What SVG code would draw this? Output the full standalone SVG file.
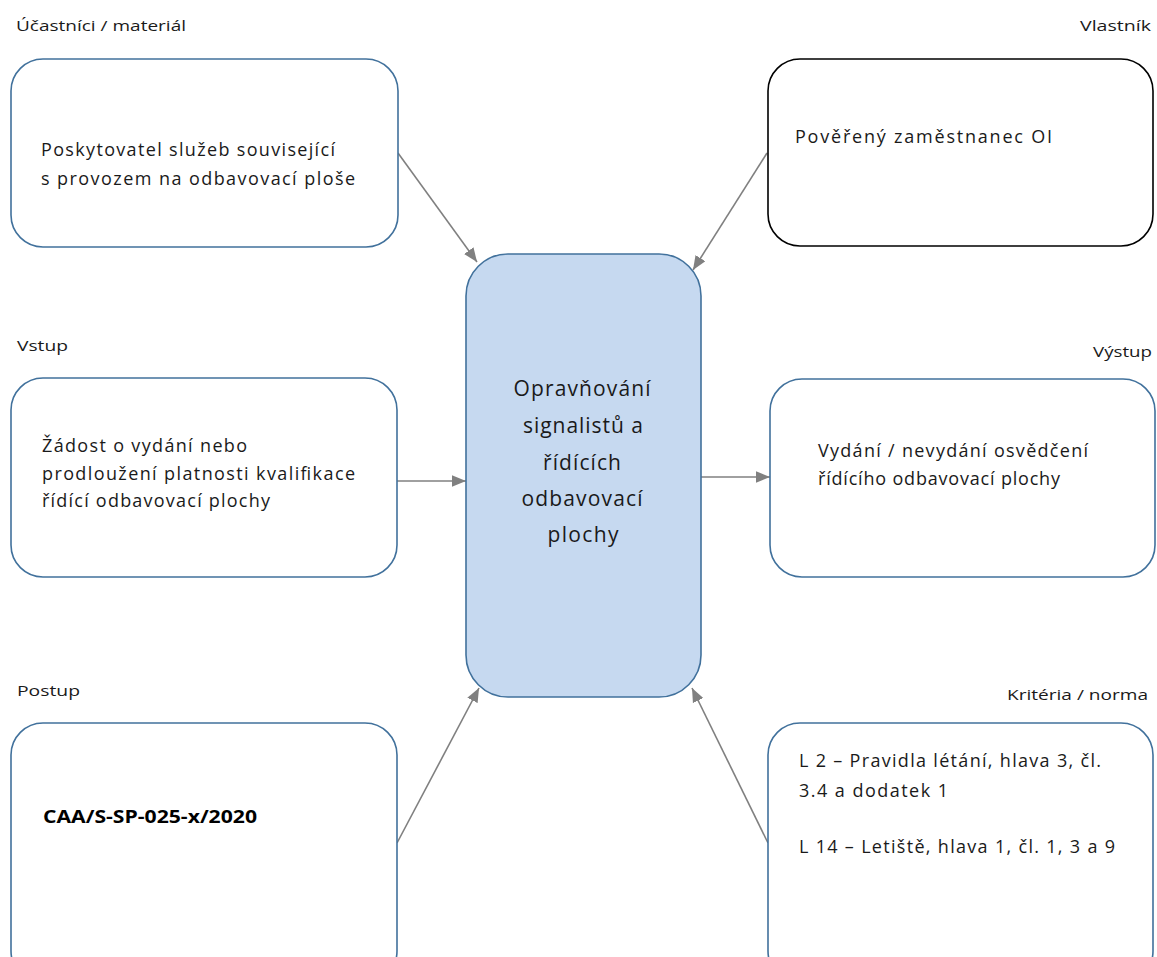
<svg xmlns="http://www.w3.org/2000/svg" width="1157" height="957" viewBox="0 0 1157 957">
  <style>
    .box { fill: #ffffff; stroke: #41719c; stroke-width: 1.6; }
    .boxk { fill: #ffffff; stroke: #000000; stroke-width: 1.6; }
    .main { fill: #c6d9f0; stroke: #41719c; stroke-width: 1.6; }
    .lbl { font-family: "Open Sans", "Liberation Sans", Arial, sans-serif; font-size: 15px; fill: #1a1a1a; }
    .txt { font-family: "Open Sans", "Liberation Sans", Arial, sans-serif; font-size: 18px; fill: #1a1a1a; }
    .ctr { font-family: "Open Sans", "Liberation Sans", Arial, sans-serif; font-size: 21px; fill: #1a1a1a; text-anchor: middle; }
    .bold { font-family: "Open Sans", "Liberation Sans", Arial, sans-serif; font-size: 18.5px; font-weight: bold; fill: #000000; }
    .conn { stroke: #808080; stroke-width: 1.6; fill: none; marker-end: url(#arr); }
  </style>
  <defs>
    <marker id="arr" viewBox="0 0 12 10" refX="12" refY="5" markerWidth="14" markerHeight="12" markerUnits="userSpaceOnUse" orient="auto">
      <path d="M0,0 L12,5 L0,10 z" fill="#808080"/>
    </marker>
  </defs>
  <rect width="1157" height="957" fill="#ffffff"/>

  <g id="connectors">
    <line class="conn" x1="398" y1="153" x2="477" y2="262"/>
    <line class="conn" x1="767" y1="153" x2="693" y2="270"/>
    <line class="conn" x1="397" y1="481" x2="466" y2="481"/>
    <line class="conn" x1="701" y1="477" x2="770" y2="477"/>
    <line class="conn" x1="397" y1="843" x2="479" y2="688"/>
    <line class="conn" x1="768" y1="843" x2="692" y2="688"/>
  </g>

  <g id="ucastnici">
    <text class="lbl" x="16" y="31" textLength="170" lengthAdjust="spacingAndGlyphs">Účastníci / materiál</text>
    <rect class="box" x="11" y="59" width="387" height="188" rx="32" ry="32"/>
    <text class="txt" x="41" y="156" textLength="294" lengthAdjust="spacing">Poskytovatel služeb související</text>
    <text class="txt" x="41" y="185" textLength="314" lengthAdjust="spacing">s provozem na odbavovací ploše</text>
  </g>

  <g id="vlastnik">
    <text class="lbl" x="1080" y="31" textLength="71" lengthAdjust="spacingAndGlyphs">Vlastník</text>
    <rect class="boxk" x="768" y="59" width="385" height="187" rx="32" ry="32"/>
    <text class="txt" x="795" y="143" textLength="257" lengthAdjust="spacing">Pověřený zaměstnanec OI</text>
  </g>

  <g id="vstup">
    <text class="lbl" x="17" y="351" textLength="51" lengthAdjust="spacingAndGlyphs">Vstup</text>
    <rect class="box" x="11" y="378" width="386" height="199" rx="32" ry="32"/>
    <text class="txt" x="42" y="452" textLength="205" lengthAdjust="spacing">Žádost o vydání nebo</text>
    <text class="txt" x="42" y="480" textLength="313" lengthAdjust="spacing">prodloužení platnosti kvalifikace</text>
    <text class="txt" x="42" y="507" textLength="228" lengthAdjust="spacing">řídící odbavovací plochy</text>
  </g>

  <g id="proces">
    <rect class="main" x="466" y="254" width="235" height="443" rx="42" ry="42"/>
    <text class="ctr" x="582" y="396" textLength="137" lengthAdjust="spacing">Opravňování</text>
    <text class="ctr" x="583" y="433" textLength="120" lengthAdjust="spacing">signalistů a</text>
    <text class="ctr" x="582" y="470" textLength="78" lengthAdjust="spacing">řídících</text>
    <text class="ctr" x="582" y="506" textLength="121" lengthAdjust="spacing">odbavovací</text>
    <text class="ctr" x="583" y="542" textLength="71" lengthAdjust="spacing">plochy</text>
  </g>

  <g id="vystup">
    <text class="lbl" x="1093" y="357" textLength="59" lengthAdjust="spacingAndGlyphs">Výstup</text>
    <rect class="box" x="770" y="379" width="385" height="198" rx="32" ry="32"/>
    <text class="txt" x="818" y="457" textLength="270" lengthAdjust="spacing">Vydání / nevydání osvědčení</text>
    <text class="txt" x="818" y="485" textLength="242" lengthAdjust="spacing">řídícího odbavovací plochy</text>
  </g>

  <g id="postup">
    <text class="lbl" x="17" y="696" textLength="63" lengthAdjust="spacingAndGlyphs">Postup</text>
    <rect class="box" x="11" y="723" width="386" height="260" rx="32" ry="32"/>
    <text class="bold" x="43" y="823" textLength="214" lengthAdjust="spacingAndGlyphs">CAA/S-SP-025-x/2020</text>
  </g>

  <g id="kriteria">
    <text class="lbl" x="1007" y="700" textLength="141" lengthAdjust="spacingAndGlyphs">Kritéria / norma</text>
    <rect class="box" x="768" y="723" width="385" height="260" rx="32" ry="32"/>
    <text class="txt" x="799" y="767" textLength="302" lengthAdjust="spacing">L 2 – Pravidla létání, hlava 3, čl.</text>
    <text class="txt" x="799" y="797" textLength="149" lengthAdjust="spacing">3.4 a dodatek 1</text>
    <text class="txt" x="799" y="853" textLength="316" lengthAdjust="spacing">L 14 – Letiště, hlava 1, čl. 1, 3 a 9</text>
  </g>
</svg>
